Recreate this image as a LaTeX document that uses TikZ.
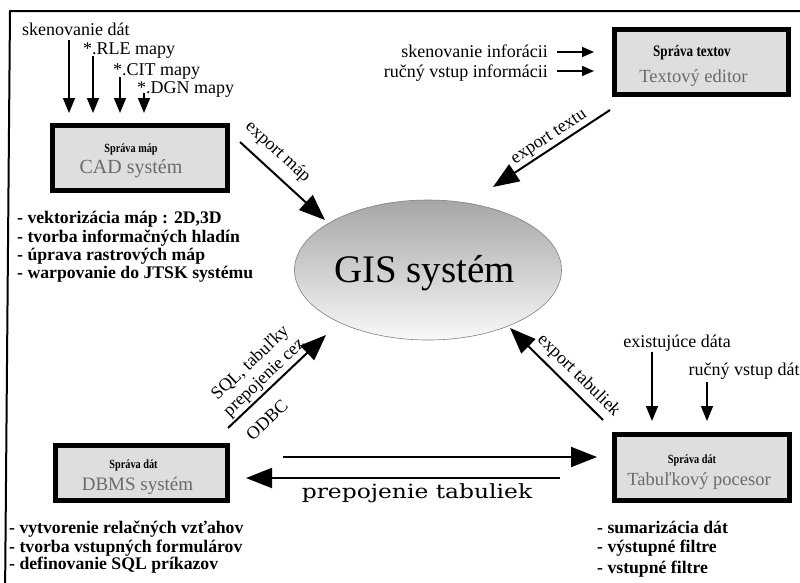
\documentclass[tikz,border=0pt]{standalone}
\usepackage{fontspec}
\setmainfont{Liberation Serif}
\newfontfamily\wideserif{DejaVu Serif}
\newfontfamily\headfont{Liberation Serif}[FakeStretch=0.82]
\usetikzlibrary{arrows.meta,shapes.geometric}
\definecolor{boxfill}{HTML}{DEDEDE}
\definecolor{subgray}{HTML}{6A6A6A}
\tikzset{
  txt/.style={font=\fontsize{18}{20}\selectfont, inner sep=0pt},
  lst/.style={font=\bfseries\fontsize{17.7}{20}\selectfont, inner sep=0pt, anchor=base west},
  box/.style={draw, line width=5pt, fill=boxfill, inner sep=0pt},
  head/.style={font=\headfont\bfseries\fontsize{12.5}{14}\selectfont, inner sep=0pt, anchor=base},
  subt/.style={text=subgray, inner sep=0pt, anchor=base},
  inarrow/.style={line width=1.6pt, -{Triangle[length=15pt,width=12pt]}},
  sidearrow/.style={line width=1.6pt, -{Triangle[length=12pt,width=10pt]}},
  bigarrow/.style={line width=2pt, -{Triangle[length=26pt,width=20pt]}},
  lbl/.style={font=\fontsize{18}{20}\selectfont, inner sep=1pt, sloped}
}
\begin{document}
\begin{tikzpicture}[x=1pt,y=-1pt]
\useasboundingbox (0,0) rectangle (800,582);
% frame
\draw[line width=2pt] (5,600) -- (10,11) -- (810,11);

% GIS ellipse
\node[ellipse, draw=gray, line width=0.6pt, top color=gray!70, bottom color=gray!5,
      minimum width=267pt, minimum height=140pt, inner sep=0pt] (gis) at (428,270) {};
\node[font=\fontsize{39}{40}\selectfont, inner sep=0pt, anchor=base] (gist) at (424.5,282) {GIS systém};

% CAD box
\node[box, minimum width=175pt, minimum height=65pt] (cad) at (140,158) {};
\node[head] (cadh) at (131,152) {Správa máp};
\node[subt, font=\fontsize{20}{21}\selectfont] (cads) at (131,173) {CAD systém};

% Text editor box
\node[box, minimum width=174pt, minimum height=65pt] (tx) at (701.5,62) {};
\node[head, font=\headfont\bfseries\fontsize{16}{17}\selectfont] (txh) at (692,56) {Správa textov};
\node[subt, font=\fontsize{18.5}{20}\selectfont] (txs) at (693.5,82) {Textový editor};

% DBMS box
\node[box, minimum width=172pt, minimum height=55pt] (db) at (141.5,473) {};
\node[head] (dbh) at (133.5,468) {Správa dát};
\node[subt, font=\fontsize{19}{20}\selectfont] (dbs) at (137.5,490) {DBMS systém};

% Tab box
\node[box, minimum width=175pt, minimum height=66pt] (tb) at (702,467.5) {};
\node[head] (tbh) at (692,463) {Správa dát};
\node[subt, font=\fontsize{18.5}{20}\selectfont] (tbs) at (699,485) {Tabuľkový pocesor};

% top-left inputs
\node[txt, anchor=base west] (i1) at (22,35) {skenovanie dát};
\node[txt, anchor=base west] (i2) at (83,54) {*.RLE mapy};
\node[txt, anchor=base west] (i3) at (113,75) {*.CIT mapy};
\node[txt, anchor=base west] (i4) at (137,93) {*.DGN mapy};
\coordinate (a1s) at (69,40);  \coordinate (a1e) at (69,113);
\coordinate (a2s) at (93,56);  \coordinate (a2e) at (93,113);
\coordinate (a3s) at (120,77); \coordinate (a3e) at (120,113);
\coordinate (a4s) at (144,93); \coordinate (a4e) at (144,113);
\draw[inarrow] (a1s) -- (a1e);
\draw[inarrow] (a2s) -- (a2e);
\draw[inarrow] (a3s) -- (a3e);
\draw[inarrow] (a4s) -- (a4e);

% CAD list
\node[lst] (c1) at (17,223) {- vektorizácia máp : 2D,3D};
\node[lst] (c2) at (17,242) {- tvorba informačných hladín};
\node[lst] (c3) at (17,260) {- úprava rastrových máp};
\node[lst] (c4) at (17,278) {- warpovanie do JTSK systému};

% text editor inputs
\node[txt, anchor=base east] (t1) at (548,57) {skenovanie inforácii};
\node[txt, anchor=base east] (t2) at (548,77) {ručný vstup informácii};
\coordinate (t1s) at (557,52); \coordinate (t1e) at (594,52);
\coordinate (t2s) at (557,71); \coordinate (t2e) at (594,71);
\draw[sidearrow] (t1s) -- (t1e);
\draw[sidearrow] (t2s) -- (t2e);

% export map
\coordinate (ems) at (240,142); \coordinate (eme) at (325,220);
\draw[bigarrow] (ems) -- node[lbl, above=8pt, pos=0.3] (eml) {export máp} (eme);

% export text
\coordinate (ets) at (610,110); \coordinate (ete) at (493,187);
\draw[bigarrow] (ets) -- node[lbl, above=1pt, pos=0.47] (etl) {export textu} (ete);

% export tables
\coordinate (ebs) at (603,420); \coordinate (ebe) at (510,328);
\draw[bigarrow] (ebs) -- node[lbl, above=4pt, pos=0.37] (ebl) {export tabuliek} (ebe);

% SQL / ODBC
\coordinate (sqs) at (228,428); \coordinate (sqe) at (326,335);
\draw[bigarrow] (sqs) -- node[lbl, above=1pt, pos=0.45, align=center] (sql) {SQL, tabuľky\\prepojenie cez}
                 node[lbl, below=13pt, pos=0.25] (odbc) {ODBC} (sqe);

% tab inputs
\node[txt, anchor=base] (e1) at (677,347) {existujúce dáta};
\node[txt, anchor=base] (e2) at (744,375) {ručný vstup dát};
\coordinate (e1s) at (652,352); \coordinate (e1e) at (652,421);
\coordinate (e2s) at (707,382); \coordinate (e2e) at (707,421);
\draw[inarrow] (e1s) -- (e1e);
\draw[inarrow] (e2s) -- (e2e);

% link arrows
\coordinate (h1s) at (283,457); \coordinate (h1e) at (597,457);
\coordinate (h2s) at (560,478); \coordinate (h2e) at (246,478);
\draw[bigarrow] (h1s) -- (h1e);
\draw[bigarrow] (h2s) -- (h2e);
\node[font=\wideserif\fontsize{19.5}{20}\selectfont, inner sep=0pt, anchor=base, xscale=1.2, transform shape] (pt) at (417,498) {prepojenie tabuliek};

% DBMS list
\node[lst] (d1) at (9,533) {- vytvorenie relačných vzťahov};
\node[lst] (d2) at (9,552) {- tvorba vstupných formulárov};
\node[lst] (d3) at (9,569) {- definovanie SQL príkazov};

% Tab list
\node[lst] (s1) at (597,533) {- sumarizácia dát};
\node[lst] (s2) at (597,552) {- výstupné filtre};
\node[lst] (s3) at (597,573) {- vstupné filtre};
\end{tikzpicture}
\end{document}
